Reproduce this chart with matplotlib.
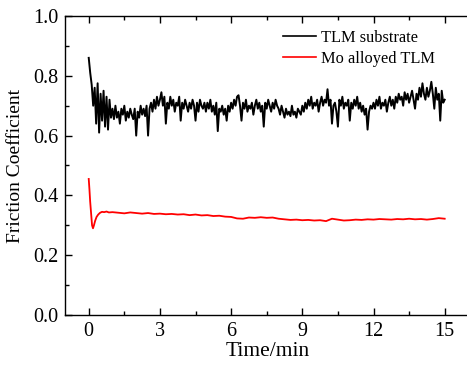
import numpy as np
import matplotlib
matplotlib.use("Agg")
import matplotlib.pyplot as plt
from matplotlib.ticker import MultipleLocator

plt.rcParams['font.family'] = ['Liberation Serif', 'DejaVu Serif']

# ---- data ----
# TLM substrate, sampled every 0.0625 min from 0 to 15 min
black_t_step = 0.0625
black_mu = [
    # 0-1 min
    0.86, 0.81, 0.77, 0.70, 0.76, 0.64, 0.775, 0.61, 0.74, 0.65, 0.75, 0.63, 0.73, 0.62, 0.72, 0.66,
    # 1-2
    0.69, 0.655, 0.70, 0.66, 0.68, 0.64, 0.69, 0.67, 0.70, 0.65, 0.68, 0.66, 0.69, 0.67, 0.655, 0.69,
    # 2-3
    0.60, 0.68, 0.66, 0.70, 0.67, 0.69, 0.665, 0.70, 0.60, 0.69, 0.71, 0.68, 0.72, 0.69, 0.73, 0.70,
    # 3-4
    0.72, 0.745, 0.70, 0.73, 0.64, 0.71, 0.69, 0.73, 0.70, 0.72, 0.68, 0.71, 0.70, 0.73, 0.65, 0.71,
    # 4-5
    0.69, 0.72, 0.70, 0.68, 0.71, 0.69, 0.72, 0.70, 0.65, 0.71, 0.68, 0.72, 0.70, 0.69, 0.71, 0.68,
    # 5-6
    0.71, 0.69, 0.72, 0.68, 0.70, 0.67, 0.71, 0.615, 0.69, 0.68, 0.70, 0.67, 0.69, 0.65, 0.70, 0.68,
    # 6-7
    0.71, 0.69, 0.72, 0.70, 0.73, 0.735, 0.70, 0.65, 0.71, 0.69, 0.72, 0.68, 0.70, 0.69, 0.71, 0.67,
    # 7-8
    0.70, 0.72, 0.69, 0.71, 0.68, 0.70, 0.63, 0.71, 0.69, 0.72, 0.70, 0.68, 0.71, 0.69, 0.72, 0.70,
    # 8-9
    0.69, 0.67, 0.70, 0.68, 0.66, 0.69, 0.67, 0.68, 0.665, 0.70, 0.67, 0.68, 0.66, 0.69, 0.68, 0.67,
    # 9-10
    0.70, 0.68, 0.71, 0.69, 0.72, 0.70, 0.73, 0.69, 0.71, 0.70, 0.72, 0.68, 0.71, 0.73, 0.70, 0.72,
    # 10-11
    0.71, 0.755, 0.70, 0.72, 0.64, 0.70, 0.71, 0.68, 0.63, 0.72, 0.70, 0.73, 0.69, 0.71, 0.70, 0.72,
    # 11-12
    0.65, 0.71, 0.69, 0.72, 0.70, 0.73, 0.69, 0.71, 0.68, 0.70, 0.67, 0.69, 0.62, 0.68, 0.70, 0.69,
    # 12-13
    0.71, 0.69, 0.72, 0.70, 0.73, 0.69, 0.71, 0.70, 0.72, 0.68, 0.71, 0.73, 0.70, 0.72, 0.69, 0.73,
    # 13-14
    0.71, 0.74, 0.72, 0.73, 0.70, 0.745, 0.72, 0.74, 0.71, 0.73, 0.75, 0.72, 0.69, 0.74, 0.72, 0.76,
    # 14-15
    0.73, 0.775, 0.74, 0.72, 0.76, 0.73, 0.75, 0.78, 0.74, 0.69, 0.76, 0.72, 0.74, 0.65, 0.75, 0.71,
    # 15
    0.72,
]

# Mo alloyed TLM
red_t = [0, 0.03, 0.06, 0.10, 0.14, 0.18, 0.22, 0.27, 0.33, 0.40, 0.48, 0.56, 0.65, 0.75, 0.85, 1.0,
         1.25, 1.5, 1.75, 2.0, 2.25, 2.5, 2.75, 3.0, 3.25, 3.5, 3.75, 4.0, 4.25, 4.5, 4.75, 5.0,
         5.25, 5.5, 5.75, 6.0, 6.25, 6.5, 6.75, 7.0, 7.25, 7.5, 7.75, 8.0, 8.25, 8.5, 8.75, 9.0,
         9.25, 9.5, 9.75, 10.0, 10.25, 10.5, 10.75, 11.0, 11.25, 11.5, 11.75, 12.0, 12.25, 12.5,
         12.75, 13.0, 13.25, 13.5, 13.75, 14.0, 14.25, 14.5, 14.75, 15.0]
red_mu = [0.455, 0.42, 0.38, 0.34, 0.30, 0.29, 0.30, 0.315, 0.328, 0.336, 0.342, 0.345, 0.344, 0.346, 0.343, 0.344,
          0.342, 0.340, 0.343, 0.341, 0.339, 0.341, 0.338, 0.339, 0.337, 0.338, 0.336, 0.337, 0.334, 0.336, 0.333, 0.334,
          0.331, 0.332, 0.329, 0.328, 0.323, 0.322, 0.326, 0.325, 0.327, 0.325, 0.326, 0.322, 0.320, 0.318, 0.319, 0.317,
          0.318, 0.316, 0.317, 0.314, 0.322, 0.319, 0.316, 0.317, 0.319, 0.318, 0.320, 0.319, 0.321, 0.320,
          0.319, 0.321, 0.320, 0.322, 0.320, 0.321, 0.319, 0.321, 0.324, 0.322]

series_labels = ["TLM substrate", "Mo alloyed TLM"]
x_ticks = [0, 3, 6, 9, 12, 15]
y_ticks = [0.0, 0.2, 0.4, 0.6, 0.8, 1.0]

black_t = np.arange(len(black_mu)) * black_t_step

# ---- figure ----
fig = plt.figure(figsize=(4.67, 3.67), dpi=100)
ax = fig.add_axes([65/467, 52/367, 405.8/467, 299/367])

ax.plot(black_t, black_mu, color='black', lw=1.4, label=series_labels[0])
ax.plot(red_t, red_mu, color='red', lw=1.3, label=series_labels[1])

ax.set_xlim(-1, 16.1)
ax.set_ylim(0, 1.0)
ax.set_xticks(x_ticks)
ax.set_yticks(y_ticks)
ax.set_yticklabels([f"{v:.1f}" for v in y_ticks])
ax.xaxis.set_minor_locator(MultipleLocator(1.5))
ax.yaxis.set_minor_locator(MultipleLocator(0.1))
ax.tick_params(which='both', direction='in', top=True, right=False, labelsize=14.5, width=1)
ax.tick_params(which='major', length=5, pad=5)
ax.tick_params(which='minor', length=3)
for s in ax.spines.values():
    s.set_linewidth(1.0)
ax.spines['right'].set_visible(False)

ax.set_xlabel("Time/min", fontsize=15.5, labelpad=1)
ax.set_ylabel("Friction Coefficient", fontsize=14, labelpad=6)

leg = ax.legend(loc='upper left', bbox_to_anchor=(283/467, 1 - 30/367), bbox_transform=fig.transFigure,
                frameon=False, fontsize=11.8, borderpad=0, borderaxespad=0, handlelength=2.0,
                handletextpad=0.3, labelspacing=0.3)
for line in leg.get_lines():
    line.set_linewidth(1.2)

fig.savefig("out.png", dpi=100)
